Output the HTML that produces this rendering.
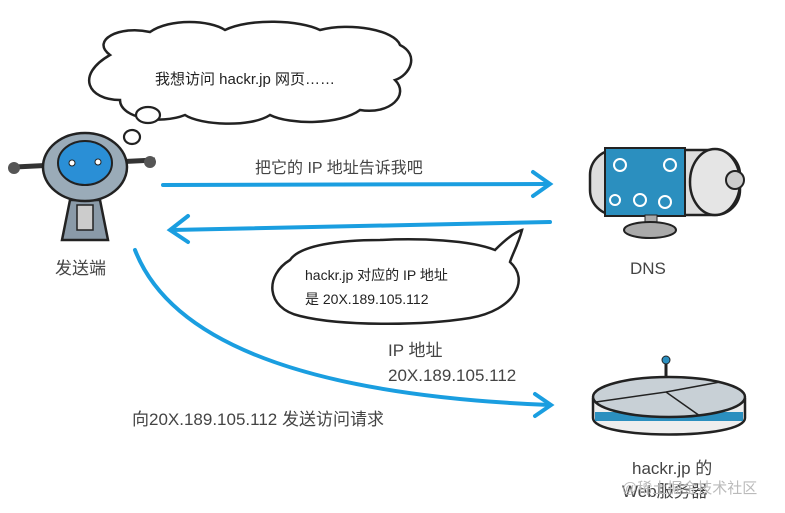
<!DOCTYPE html>
<html><head><meta charset="utf-8"><style>
html,body{margin:0;padding:0;background:#fff;}
svg{display:block;font-family:"Liberation Sans","Noto Sans CJK SC",sans-serif;}
</style></head><body>
<svg width="785" height="513" viewBox="0 0 785 513" xmlns="http://www.w3.org/2000/svg">
<rect width="785" height="513" fill="#fff"/>
<!-- top cloud -->
<path d="M110,55 C90,40 120,25 150,32 C170,18 210,20 225,30 C250,18 300,20 320,30 C350,22 395,30 400,45 C420,55 410,75 395,80 C410,95 390,115 360,110 C340,125 290,125 270,115 C250,128 200,125 185,115 C160,125 120,118 120,100 C88,100 75,75 110,55 Z" fill="#fff" stroke="#222" stroke-width="2.5"/>
<ellipse cx="148" cy="115" rx="12" ry="8" fill="#fff" stroke="#222" stroke-width="2.2"/>
<ellipse cx="132" cy="137" rx="8" ry="7" fill="#fff" stroke="#222" stroke-width="2.2"/>
<text x="155" y="84" font-size="15" fill="#222">我想访问 hackr.jp 网页……</text>
<!-- robot -->
<line x1="15" y1="167" x2="155" y2="160" stroke="#333" stroke-width="5"/>
<circle cx="14" cy="168" r="6" fill="#555"/><circle cx="150" cy="162" r="6" fill="#555"/>
<path d="M70,200 L100,200 L108,240 L62,240 Z" fill="#8a9aa8" stroke="#222" stroke-width="2.5"/>
<rect x="77" y="205" width="16" height="25" fill="#ccc" stroke="#222" stroke-width="1.5"/>
<ellipse cx="85" cy="167" rx="42" ry="34" fill="#9aabb8" stroke="#222" stroke-width="2.5"/>
<ellipse cx="85" cy="163" rx="27" ry="22" fill="#2a8fd6" stroke="#222" stroke-width="2"/>
<circle cx="72" cy="163" r="3" fill="#fff" stroke="#222"/><circle cx="98" cy="162" r="3" fill="#fff" stroke="#222"/>
<text x="55" y="274" font-size="17" fill="#444">发送端</text>
<!-- arrows -->
<g stroke="#1a9ee0" stroke-width="4" fill="none" stroke-linecap="round">
<path d="M163,185 L548,184"/><path d="M533,172 L550,184 L533,196"/>
<path d="M550,222 L172,230"/><path d="M188,216 L170,230 L188,242"/>
<path d="M135,250 C170,340 300,395 550,405"/><path d="M535,394 L551,405 L535,416"/>
</g>
<text x="255" y="173" font-size="16" fill="#444">把它的 IP 地址告诉我吧</text>
<!-- cloud 2 -->
<path d="M290,260 C300,245 340,240 380,240 C420,238 470,240 495,250 C505,240 515,232 522,230 C518,245 512,255 510,262 C530,280 515,310 470,318 C420,326 340,326 300,316 C265,308 265,275 290,260 Z" fill="#fff" stroke="#222" stroke-width="2.5"/>
<text x="305" y="280" font-size="14" fill="#222">hackr.jp 对应的 IP 地址</text>
<text x="305" y="304" font-size="14" fill="#222">是 20X.189.105.112</text>
<!-- DNS -->
<rect x="590" y="150" width="150" height="65" rx="25" fill="#ddd" stroke="#222" stroke-width="2.5"/>
<rect x="605" y="148" width="80" height="68" fill="#2b8fbf" stroke="#222" stroke-width="2"/>
<g stroke="#fff" stroke-width="2" fill="none">
<circle cx="620" cy="165" r="6"/><circle cx="640" cy="200" r="6"/><circle cx="670" cy="165" r="6"/><circle cx="665" cy="202" r="6"/><circle cx="615" cy="200" r="5"/>
</g>
<ellipse cx="715" cy="182" rx="25" ry="33" fill="#e5e5e5" stroke="#222" stroke-width="2.5"/>
<circle cx="735" cy="180" r="9" fill="#ccc" stroke="#222" stroke-width="2"/>
<rect x="645" y="215" width="12" height="12" fill="#aaa" stroke="#222"/>
<ellipse cx="650" cy="230" rx="26" ry="8" fill="#aaa" stroke="#222" stroke-width="2"/>
<text x="630" y="274" font-size="17" fill="#444">DNS</text>
<!-- labels -->
<text x="388" y="356" font-size="17" fill="#444">IP 地址</text>
<text x="388" y="381" font-size="17" fill="#444">20X.189.105.112</text>
<text x="132" y="425" font-size="17" fill="#444">向20X.189.105.112 发送访问请求</text>
<!-- web server -->
<line x1="666" y1="362" x2="666" y2="392" stroke="#222" stroke-width="3"/>
<circle cx="666" cy="360" r="4" fill="#2b8fbf" stroke="#222"/>
<path d="M593,398 L593,418 C593,440 745,440 745,418 L745,398" fill="#eee" stroke="#222" stroke-width="2.5"/>
<rect x="595" y="412" width="148" height="9" fill="#2b8fbf"/>
<ellipse cx="669" cy="397" rx="76" ry="20" fill="#c8d0d6" stroke="#222" stroke-width="2.5"/>
<path d="M596,402 L666,392 L700,416 M666,392 L720,382" stroke="#222" stroke-width="1.5" fill="none"/>
<text x="632" y="474" font-size="17" fill="#444">hackr.jp 的</text>
<text x="622" y="497" font-size="17" fill="#444">Web服务器</text>
<text x="622" y="493" font-size="15" fill="#bbb">@稀土掘金技术社区</text>
</svg>
</body></html>
